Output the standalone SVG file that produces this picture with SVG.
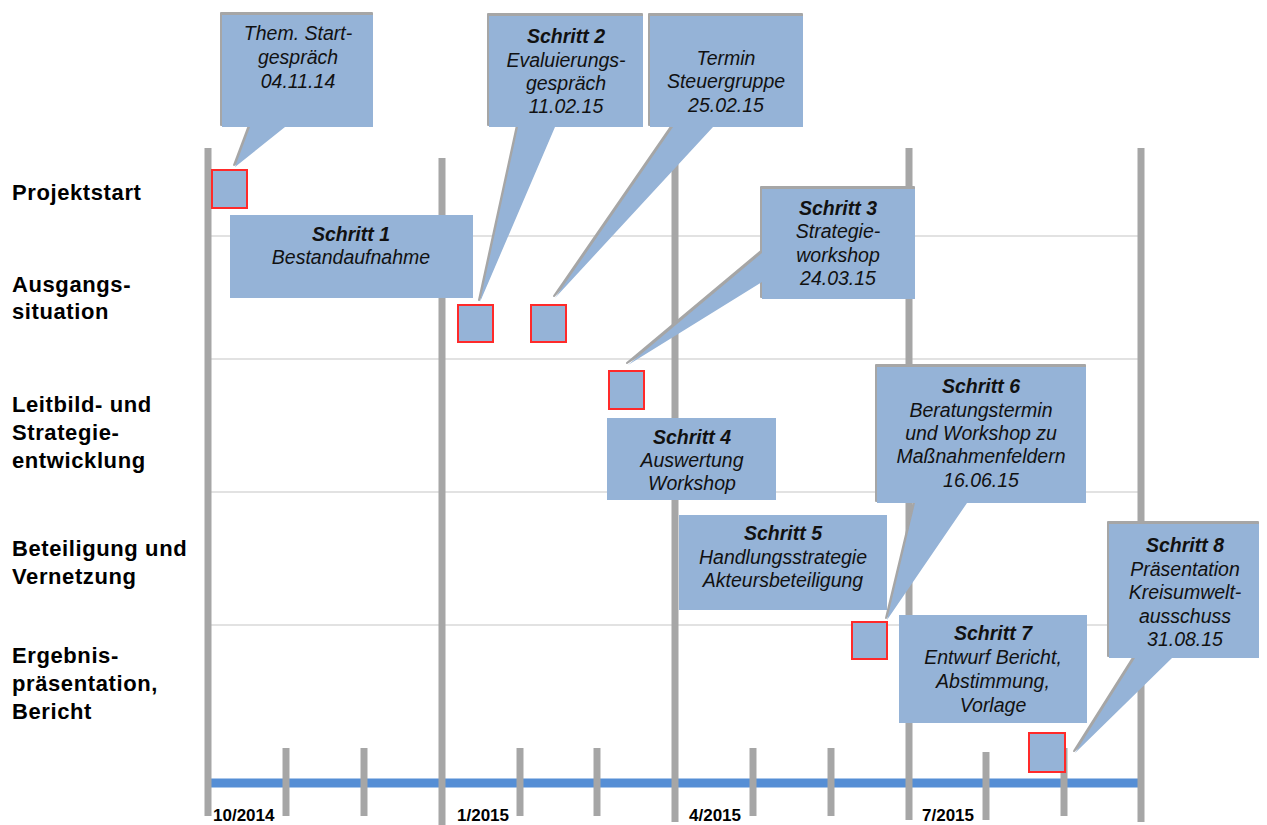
<svg xmlns="http://www.w3.org/2000/svg" width="1267" height="825" viewBox="0 0 1267 825">
<style>
.grid{stroke:#d9d9d9;stroke-width:1.5}
.major{stroke:#a6a6a6;stroke-width:7}
.tick{stroke:#a6a6a6;stroke-width:7}
.axis{stroke:#558ed5;stroke-width:9}
.box{fill:#95b3d7}
.shadow{fill:#a6a6a6;stroke:#a6a6a6;stroke-width:2;stroke-linejoin:round}
.mark{fill:#95b3d7;stroke:#ff2a2a;stroke-width:2}
.row{font-family:"Liberation Sans",Arial,sans-serif;font-weight:bold;font-size:22px;letter-spacing:0.6px;fill:#000}
.t{font-family:"Liberation Sans",Arial,sans-serif;font-style:italic;font-size:19.5px;fill:#111;text-anchor:middle}
.b{font-weight:bold}
.date{font-family:"Liberation Sans",Arial,sans-serif;font-weight:bold;font-size:17px;fill:#000}
</style>
<rect width="1267" height="825" fill="#fff"/>
<g id="connectors">
<line class="grid" x1="208" y1="236" x2="1141" y2="236"/>
<line class="grid" x1="208" y1="359" x2="1141" y2="359"/>
<line class="grid" x1="208" y1="492" x2="1141" y2="492"/>
<line class="grid" x1="208" y1="625" x2="1141" y2="625"/>
<line class="axis" x1="208" y1="783" x2="1141" y2="783"/>
<line class="major" x1="208" y1="148" x2="208" y2="816"/>
<line class="major" x1="442" y1="158" x2="442" y2="825"/>
<line class="major" x1="675" y1="148" x2="675" y2="822"/>
<line class="major" x1="909" y1="148" x2="909" y2="820"/>
<line class="major" x1="1141" y1="148" x2="1141" y2="822"/>
<line class="tick" x1="286" y1="748" x2="286" y2="816"/>
<line class="tick" x1="364" y1="748" x2="364" y2="816"/>
<line class="tick" x1="520" y1="748" x2="520" y2="816"/>
<line class="tick" x1="597" y1="748" x2="597" y2="816"/>
<line class="tick" x1="753" y1="748" x2="753" y2="816"/>
<line class="tick" x1="831" y1="748" x2="831" y2="816"/>
<line class="tick" x1="986" y1="752" x2="986" y2="820"/>
<line class="tick" x1="1064" y1="748" x2="1064" y2="816"/>
</g>
<g id="axis-labels">
<text class="date" x="213" y="821">10/2014</text>
<text class="date" x="457" y="821">1/2015</text>
<text class="date" x="689" y="821">4/2015</text>
<text class="date" x="922" y="821">7/2015</text>
</g>
<g id="row-labels">
<text class="row" x="12" y="200">Projektstart</text>
<text class="row" x="12" y="292">Ausgangs-</text>
<text class="row" x="12" y="319">situation</text>
<text class="row" x="12" y="412">Leitbild- und</text>
<text class="row" x="12" y="440">Strategie-</text>
<text class="row" x="12" y="468">entwicklung</text>
<text class="row" x="12" y="556">Beteiligung und</text>
<text class="row" x="12" y="584">Vernetzung</text>
<text class="row" x="12" y="663">Ergebnis-</text>
<text class="row" x="12" y="691">präsentation,</text>
<text class="row" x="12" y="719">Bericht</text>
</g>
<g id="schritt1">
<rect class="box" x="230" y="215" width="243" height="83"/>
<text class="t" x="351" y="241"><tspan class="b">Schritt 1</tspan><tspan x="351" y="264">Bestandaufnahme</tspan></text>
</g>
<g id="schritt4">
<rect class="box" x="607" y="418" width="169" height="82"/>
<text class="t" x="692" y="444"><tspan class="b">Schritt 4</tspan><tspan x="692" y="467">Auswertung</tspan><tspan x="692" y="490">Workshop</tspan></text>
</g>
<g id="schritt5">
<rect class="box" x="679" y="515" width="208" height="95"/>
<text class="t" x="783" y="540"><tspan class="b">Schritt 5</tspan><tspan x="783" y="564">Handlungsstrategie</tspan><tspan x="783" y="587">Akteursbeteiligung</tspan></text>
</g>
<g id="schritt7">
<rect class="box" x="899" y="615" width="188" height="108"/>
<text class="t" x="993" y="640"><tspan class="b">Schritt 7</tspan><tspan x="993" y="664">Entwurf Bericht,</tspan><tspan x="993" y="688">Abstimmung,</tspan><tspan x="993" y="712">Vorlage</tspan></text>
</g>
<g id="startgespraech">
<path class="shadow" transform="translate(-1,-2)" d="M222,15 H373 V127 H285 L235,167 L250,127 H222 Z"/>
<path class="box" d="M222,15 H373 V127 H285 L235,167 L250,127 H222 Z"/>
<text class="t" x="298" y="40">Them. Start-<tspan x="298" y="64">gespräch</tspan><tspan x="298" y="88">04.11.14</tspan></text>
</g>
<g id="schritt2">
<path class="shadow" transform="translate(-1,-2)" d="M489,16 H643 V127 H555 L480,302 L518,127 H489 Z"/>
<path class="box" d="M489,16 H643 V127 H555 L480,302 L518,127 H489 Z"/>
<text class="t" x="566" y="43"><tspan class="b">Schritt 2</tspan><tspan x="566" y="67">Evaluierungs-</tspan><tspan x="566" y="90">gespräch</tspan><tspan x="566" y="113">11.02.15</tspan></text>
</g>
<g id="steuergruppe">
<path class="shadow" transform="translate(-1,-2)" d="M650,16 H803 V127 H713 L555,298 L673,127 H650 Z"/>
<path class="box" d="M650,16 H803 V127 H713 L555,298 L673,127 H650 Z"/>
<text class="t" x="726" y="65">Termin<tspan x="726" y="88">Steuergruppe</tspan><tspan x="726" y="112">25.02.15</tspan></text>
</g>
<g id="schritt3">
<path class="shadow" transform="translate(-1,-2)" d="M762,189 H915 V299 H762 V282 L628,365 L762,253 Z"/>
<path class="box" d="M762,189 H915 V299 H762 V282 L628,365 L762,253 Z"/>
<text class="t" x="838" y="215"><tspan class="b">Schritt 3</tspan><tspan x="838" y="238">Strategie-</tspan><tspan x="838" y="262">workshop</tspan><tspan x="838" y="285">24.03.15</tspan></text>
</g>
<g id="schritt6">
<path class="shadow" transform="translate(-1,-2)" d="M877,367 H1086 V503 H967 L887,620 L915,503 H877 Z"/>
<path class="box" d="M877,367 H1086 V503 H967 L887,620 L915,503 H877 Z"/>
<text class="t" x="981" y="393"><tspan class="b">Schritt 6</tspan><tspan x="981" y="417">Beratungstermin</tspan><tspan x="981" y="440">und Workshop zu</tspan><tspan x="981" y="463">Maßnahmenfeldern</tspan><tspan x="981" y="487">16.06.15</tspan></text>
</g>
<g id="schritt8">
<path class="shadow" transform="translate(-1,-2)" d="M1109,524 H1259 V658 H1172 L1075,753 L1135,658 H1109 Z"/>
<path class="box" d="M1109,524 H1259 V658 H1172 L1075,753 L1135,658 H1109 Z"/>
<text class="t" x="1185" y="552"><tspan class="b">Schritt 8</tspan><tspan x="1185" y="576">Präsentation</tspan><tspan x="1185" y="599">Kreisumwelt-</tspan><tspan x="1185" y="623">ausschuss</tspan><tspan x="1185" y="646">31.08.15</tspan></text>
</g>
<g id="markers">
<rect class="mark" x="212" y="170" width="35" height="38"/>
<rect class="mark" x="458" y="305" width="35" height="37"/>
<rect class="mark" x="531" y="305" width="35" height="37"/>
<rect class="mark" x="609" y="371" width="35" height="38"/>
<rect class="mark" x="852" y="622" width="35" height="37"/>
<rect class="mark" x="1029" y="733" width="36" height="39"/>
</g>
</svg>
